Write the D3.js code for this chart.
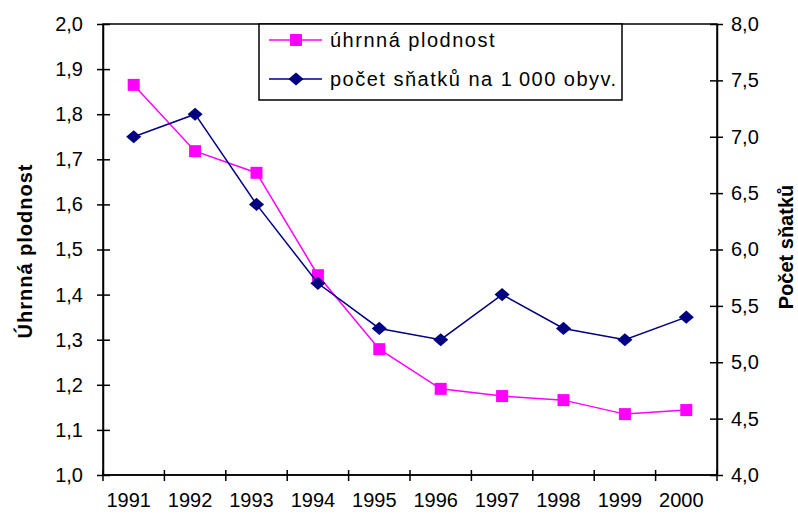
<!DOCTYPE html>
<html>
<head>
<meta charset="utf-8">
<script src="https://cdn.jsdelivr.net/npm/d3@7"></script>
<style>
  html, body { margin: 0; padding: 0; background: #fff; }
  svg { display: block; }
  text { font-family: "Liberation Sans", Arial, sans-serif; fill: #000; }
</style>
</head>
<body>
<svg id="chart" width="798" height="515"></svg>
<script>
const years = ["1991","1992","1993","1994","1995","1996","1997","1998","1999","2000"];
const fertility = [1.865, 1.718, 1.670, 1.443, 1.279, 1.191, 1.175, 1.166, 1.135, 1.144];
const marriages = [7.0, 7.2, 6.4, 5.7, 5.3, 5.2, 5.6, 5.3, 5.2, 5.4];
const leftTicks = [1.0, 1.1, 1.2, 1.3, 1.4, 1.5, 1.6, 1.7, 1.8, 1.9, 2.0];
const rightTicks = [4.0, 4.5, 5.0, 5.5, 6.0, 6.5, 7.0, 7.5, 8.0];
const seriesNames = ["úhrnná plodnost", "počet sňatků na 1\u2009000 obyv."];
const leftTitle = "Úhrnná plodnost";
const rightTitle = "Počet sňatků";

const svg = d3.select("#chart");
const L = 103, R = 717, T = 24, B = 475;
const fmt = d => d3.format(".1f")(d).replace(".", ",");

const x = d3.scaleBand().domain(years).range([L, R]).padding(0);
const yL = d3.scaleLinear().domain([1.0, 2.0]).range([B, T]);
const yR = d3.scaleLinear().domain([4.0, 8.0]).range([B, T]);

// plot box
svg.append("rect").attr("x", L).attr("y", T).attr("width", R - L).attr("height", B - T)
  .attr("fill", "none").attr("stroke", "#000").attr("stroke-width", 1.5);

// left axis
const gL = svg.append("g").attr("transform", `translate(${L},0)`)
  .call(d3.axisLeft(yL).tickValues(leftTicks).tickFormat(fmt).tickSizeInner(6).tickSizeOuter(0).tickPadding(14));
gL.select(".domain").attr("stroke", "#000").attr("stroke-width", 1.5);
gL.selectAll(".tick line").attr("x2", -6).attr("x1", 7).attr("stroke", "#000").attr("stroke-width", 1.5);
gL.selectAll(".tick text").attr("font-size", 20).attr("font-family", "Liberation Sans, Arial, sans-serif").attr("fill", "#000");

// right axis
const gR = svg.append("g").attr("transform", `translate(${R},0)`)
  .call(d3.axisRight(yR).tickValues(rightTicks).tickFormat(fmt).tickSizeInner(6).tickSizeOuter(0).tickPadding(8));
gR.select(".domain").attr("stroke", "#000").attr("stroke-width", 1.5);
gR.selectAll(".tick line").attr("x1", -7).attr("x2", 6).attr("stroke", "#000").attr("stroke-width", 1.5);
gR.selectAll(".tick text").attr("font-size", 20).attr("font-family", "Liberation Sans, Arial, sans-serif").attr("fill", "#000");

// bottom axis: ticks at band boundaries, labels at band centres
const boundaries = years.map(d => x(d)).concat([R]);
const gB = svg.append("g");
gB.append("line").attr("x1", L).attr("x2", R).attr("y1", B).attr("y2", B)
  .attr("stroke", "#000").attr("stroke-width", 1.5);
gB.selectAll("line.tk").data(boundaries).join("line").attr("class", "tk")
  .attr("x1", d => d).attr("x2", d => d).attr("y1", B - 5).attr("y2", B + 6)
  .attr("stroke", "#000").attr("stroke-width", 1.5);
gB.selectAll("text").data(years).join("text")
  .attr("x", d => x(d) + x.bandwidth() / 2 - 5).attr("y", 507)
  .attr("text-anchor", "middle").attr("font-size", 20).text(d => d);

// axis titles
svg.append("text").attr("transform", "translate(32,251) rotate(-90)")
  .attr("text-anchor", "middle").attr("font-size", 20).attr("font-weight", "bold")
  .attr("letter-spacing", 1).text(leftTitle);
svg.append("text").attr("transform", "translate(793,247) rotate(-90)")
  .attr("text-anchor", "middle").attr("font-size", 20).attr("font-weight", "bold")
  .text(rightTitle);

const cx = d => x(d) + x.bandwidth() / 2;
const pink = "#FF00FF", navy = "#000080";

// fertility line
svg.append("path").datum(fertility)
  .attr("d", d3.line().x((d, i) => cx(years[i])).y(d => yL(d)))
  .attr("fill", "none").attr("stroke", pink).attr("stroke-width", 1.5);
svg.selectAll("rect.sq").data(fertility).join("rect").attr("class", "sq")
  .attr("x", (d, i) => cx(years[i]) - 6).attr("y", d => yL(d) - 6)
  .attr("width", 12).attr("height", 12).attr("fill", pink);

// marriages line
svg.append("path").datum(marriages)
  .attr("d", d3.line().x((d, i) => cx(years[i])).y(d => yR(d)))
  .attr("fill", "none").attr("stroke", navy).attr("stroke-width", 1.5);
const diamond = d3.symbol().type(d3.symbolDiamond2).size(110);
svg.selectAll("path.dm").data(marriages).join("path").attr("class", "dm")
  .attr("transform", (d, i) => `translate(${cx(years[i])},${yR(d)}) scale(1.15,1)`)
  .attr("d", diamond).attr("fill", navy);

// legend
const lg = svg.append("g");
lg.append("rect").attr("x", 259).attr("y", 24).attr("width", 363).attr("height", 76)
  .attr("fill", "#fff").attr("stroke", "#000").attr("stroke-width", 1.5);
const rows = [{ name: seriesNames[0], color: pink, y: 40, shape: "sq" },
              { name: seriesNames[1], color: navy, y: 79, shape: "dm" }];
rows.forEach(r => {
  lg.append("line").attr("x1", 269).attr("x2", 322).attr("y1", r.y).attr("y2", r.y)
    .attr("stroke", r.color).attr("stroke-width", 1.5);
  if (r.shape === "sq") {
    lg.append("rect").attr("x", 296 - 6).attr("y", r.y - 6).attr("width", 12).attr("height", 12).attr("fill", r.color);
  } else {
    lg.append("path").attr("transform", `translate(296,${r.y}) scale(1.15,1)`).attr("d", diamond).attr("fill", r.color);
  }
  lg.append("text").attr("x", 330).attr("y", r.y + 7).attr("font-size", 20)
    .attr("letter-spacing", 1.5).text(r.name);
});
</script>
</body>
</html>
